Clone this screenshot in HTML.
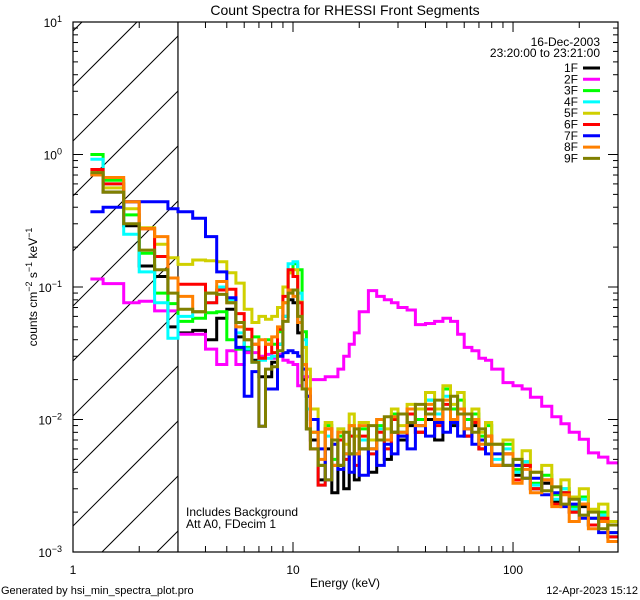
<!DOCTYPE html>
<html><head><meta charset="utf-8"><style>
html,body{margin:0;padding:0;background:#fff;width:640px;height:600px;overflow:hidden;}
svg{display:block;font-family:"Liberation Sans",sans-serif;}
</style></head><body>
<svg id="chart" width="640" height="600" viewBox="0 0 640 600" xmlns="http://www.w3.org/2000/svg">
<defs><clipPath id="plotclip"><rect x="73" y="22" width="545" height="530"/></clipPath></defs>
<rect x="0" y="0" width="640" height="600" fill="#fff"/>
<text x="345" y="15" font-size="14" text-anchor="middle">Count Spectra for RHESSI Front Segments</text>
<g id="hatch"></g>
<g id="series" clip-path="url(#plotclip)"></g>
<g id="axes"></g>
<text x="345" y="587" font-size="12" text-anchor="middle">Energy (keV)</text>
<text transform="translate(37,287) rotate(-90)" font-size="12" text-anchor="middle">counts cm<tspan dy="-5" font-size="9">−2</tspan><tspan dy="5"> s</tspan><tspan dy="-5" font-size="9">−1</tspan><tspan dy="5"> keV</tspan><tspan dy="-5" font-size="9">−1</tspan></text>
<text x="186" y="516" font-size="12">Includes Background</text>
<text x="186" y="528" font-size="12">Att A0, FDecim 1</text>
<text x="1" y="594" font-size="11">Generated by hsi_min_spectra_plot.pro</text>
<text x="638" y="594" font-size="11" text-anchor="end">12-Apr-2023 15:12</text>
<text x="600" y="46" font-size="12" text-anchor="end">16-Dec-2003</text>
<text x="600" y="57" font-size="12" text-anchor="end">23:20:00 to 23:21:00</text>
<g id="legend"></g>
</svg>
<script>
const edges = [1.2,1.37,1.7,2.0,2.35,2.7,3.0,3.5,4.0,4.5,5.0,5.5,6.0,6.5,7.0,7.5,8.0,8.5,9.0,9.5,10,10.5,11,11.5,12,13,14,15,16,17,18,19,20,22,24,26,28,30,33,36,40,44,48,52,56,60,65,70,75,80,90,100,110,120,135,150,165,180,200,220,245,270,300];
const seriesNames = ["1F","2F","3F","4F","5F","6F","7F","8F","9F"];
const seriesColors = ["#000000","#ff00ff","#00ff00","#00ffff","#d0d000","#ff0000","#0000ff","#ff8000","#808000"];
const s1F = [0.70,0.52,0.29,0.144,0.12,0.050,0.045,0.047,0.040,0.058,0.068,0.042,0.033,0.028,0.021,0.021,0.027,0.037,0.060,0.080,0.076,0.045,0.020,0.0085,
 .007,.0035,.006,.0028,.0045,.003,.0055,.0035,.006,.004,.007,.005,.008,.007,.009,.008,.010,.007,.012,.009,.011,.0075,.009,.006,.0065,.0045,.0055,.0038,.0045,.003,.0033,.0024,.0028,.002,.0022,.0016,.0018,.0013];
const s2F = [0.115,0.106,0.076,0.078,0.066,0.066,0.044,0.044,0.034,0.026,0.033,0.026,0.032,0.032,0.030,0.031,0.029,0.031,0.028,0.027,0.026,0.018,0.021,0.021,
 .020,.020,.021,.021,.024,.030,.037,.045,.065,.094,.085,.080,.076,.070,.067,.052,.053,.055,.058,.055,.044,.035,.033,.029,.028,.024,.019,.018,.017,.0147,.0126,.0105,.0093,.0080,.0071,.0056,.0052,.0047];
const s3F = [1.0,0.64,0.35,0.18,0.09,0.075,0.055,0.058,0.064,0.065,0.040,0.034,0.035,0.042,0.029,0.040,0.037,0.046,0.076,0.128,0.15,0.135,0.046,0.015,
 .008,.0045,.009,.005,.0075,.0055,.009,.0055,.0085,.006,.009,.007,.011,.008,.012,.010,.014,.011,.017,.012,.014,.010,.011,.0075,.009,.0055,.0065,.0042,.0048,.0033,.0038,.0027,.003,.0022,.0026,.0018,.002,.0014];
const s4F = [0.92,0.6,0.25,0.13,0.076,0.041,0.06,0.065,0.076,0.10,0.08,0.045,0.034,0.027,0.028,0.029,0.030,0.037,0.06,0.15,0.155,0.09,0.04,0.012,
 .010,.0032,.0075,.0045,.0085,.005,.0075,.0055,.007,.0055,.0085,.006,.0105,.0075,.011,.009,.014,.011,.015,.010,.012,.0085,.0095,.007,.0075,.005,.006,.004,.0048,.0032,.0035,.0025,.003,.0021,.0025,.0016,.0019,.0013];
const s5F = [0.73,0.56,0.39,0.28,0.21,0.166,0.148,0.16,0.158,0.155,0.128,0.107,0.068,0.054,0.060,0.057,0.060,0.070,0.10,0.128,0.135,0.077,0.035,0.024,
 .012,.008,.0095,.0065,.0085,.0065,.011,.0075,.0095,.007,.010,.0085,.012,.009,.013,.012,.016,.012,.018,.013,.016,.011,.012,.008,.0095,.0065,.007,.005,.0058,.004,.0045,.0031,.0035,.0026,.003,.0021,.0023,.0017];
const s6F = [0.77,0.60,0.44,0.275,0.17,0.117,0.105,0.105,0.076,0.095,0.096,0.063,0.048,0.037,0.029,0.037,0.032,0.048,0.085,0.135,0.12,0.076,0.026,0.015,
 .006,.0032,.0085,.0045,.007,.005,.0075,.0045,.0075,.0055,.008,.006,.010,.0075,.011,.008,.012,.009,.013,.010,.012,.0075,.0095,.006,.0075,.0045,.0055,.0035,.0045,.003,.0035,.0023,.0028,.002,.0023,.0016,.0018,.0013];
const s7F = [0.37,0.40,0.44,0.44,0.44,0.39,0.37,0.33,0.24,0.13,0.083,0.035,0.015,0.023,0.0089,0.017,0.017,0.030,0.032,0.033,0.032,0.030,0.024,0.015,
 .010,.006,.0035,.0065,.0042,.0055,.004,.0055,.0038,.006,.0045,.0065,.0055,.0075,.006,.009,.0075,.0095,.008,.0095,.0075,.0085,.0065,.007,.0055,.0055,.0045,.0045,.0036,.0036,.0027,.0028,.0022,.0023,.0018,.0018,.0014,.0014];
const s8F = [0.70,0.67,0.44,0.275,0.24,0.117,0.085,0.065,0.09,0.11,0.076,0.050,0.040,0.037,0.040,0.037,0.042,0.050,0.076,0.095,0.085,0.054,0.026,0.017,
 .008,.005,.0085,.0045,.008,.0055,.009,.0055,.009,.006,.010,.007,.0105,.008,.012,.009,.013,.010,.014,.010,.012,.0085,.010,.0065,.0075,.0045,.0055,.0033,.0042,.0028,.0035,.0022,.0027,.0017,.0023,.0015,.0017,.0012];
const s9F = [0.73,0.52,0.30,0.19,0.135,0.09,0.068,0.065,0.09,0.088,0.076,0.054,0.040,0.027,0.0089,0.024,0.025,0.033,0.055,0.09,0.095,0.060,0.017,0.0085,
 .006,.0045,.0035,.007,.0045,.008,.0055,.0085,.006,.009,.007,.0105,.008,.011,.0095,.013,.011,.014,.012,.015,.011,.011,.008,.0085,.0065,.0065,.0045,.005,.0036,.004,.0029,.0031,.0023,.0025,.0019,.002,.0015,.0016];
const seriesValues = [s1F,s2F,s3F,s4F,s5F,s6F,s7F,s8F,s9F];
const xTickLabels = ["1","10","100"];
const yTickExps = ["1","0","−1","−2","−3"];

const NS="http://www.w3.org/2000/svg";
const L=73,R=618,T=22,B=552;
const XMIN=1,XMAX=300,YMIN=0.001,YMAX=10;
function xS(e){return L+(Math.log10(e)-Math.log10(XMIN))/(Math.log10(XMAX)-Math.log10(XMIN))*(R-L);}
function yS(v){return B-(Math.log10(v)-Math.log10(YMIN))/(Math.log10(YMAX)-Math.log10(YMIN))*(B-T);}
function mk(tag,attrs,parent){const el=document.createElementNS(NS,tag);for(const k in attrs)el.setAttribute(k,attrs[k]);parent.appendChild(el);return el;}

const hatch=document.getElementById('hatch');
const xh=xS(3);
for(let y0=86-55*3;y0<=B+(xh-L);y0+=55){
  // line: y = y0 - (x - L)
  const xa=Math.max(L, L+y0-B), xb=Math.min(xh, L+y0-T);
  if(xb<=xa)continue;
  const ln=mk('line',{x1:xa,y1:y0-(xa-L),x2:xb,y2:y0-(xb-L),stroke:'#000','stroke-width':1},hatch);
  
  
}
const vline=mk('line',{x1:xh,y1:T,x2:xh,y2:B,stroke:'#000','stroke-width':1.2},hatch);



const sg=document.getElementById('series');
seriesValues.forEach((vals,i)=>{
  let d='M'+xS(edges[0]).toFixed(1)+' '+Math.min(B,yS(vals[0])).toFixed(1);
  for(let j=0;j<vals.length;j++){
    if(j>0)d+=' V'+Math.min(B,yS(vals[j])).toFixed(1);
    d+=' H'+Math.min(R,xS(edges[j+1])).toFixed(1);
  }
  const p=mk('path',{d:d,fill:'none',stroke:seriesColors[i],'stroke-width':3,'stroke-linejoin':'miter'},sg);
  
  
});

const ax=document.getElementById('axes');
const frame=mk('rect',{x:L,y:T,width:R-L,height:B-T,fill:'none',stroke:'#000','stroke-width':1.2},ax);


for(let dec=0;dec<3;dec++){
  for(let m=1;m<10;m++){
    const e=Math.pow(10,dec)*m; if(e>XMAX)break;
    const x=xS(e); const len=m===1?10:6;
    const t1=mk('line',{x1:x,y1:B,x2:x,y2:B-len,stroke:'#000','stroke-width':1},ax);
    
    
    const t2=mk('line',{x1:x,y1:T,x2:x,y2:T+len,stroke:'#000','stroke-width':1},ax);
    
    
  }
}
xTickLabels.forEach((lab,i)=>{
  const t=mk('text',{x:xS(Math.pow(10,i)),y:574,'font-size':12,'text-anchor':'middle'},ax);
  t.textContent=lab;
  
  
});
for(let dec=-3;dec<1;dec++){
  for(let m=1;m<10;m++){
    const v=Math.pow(10,dec)*m; const y=yS(v); const len=m===1?10:5;
    const t1=mk('line',{x1:L,y1:y,x2:L+len,y2:y,stroke:'#000','stroke-width':1},ax);
    
    
    const t2=mk('line',{x1:R,y1:y,x2:R-len,y2:y,stroke:'#000','stroke-width':1},ax);
    
    
  }
}
yTickExps.forEach((ex,i)=>{
  const v=Math.pow(10,1-i); const y=yS(v);
  const t=mk('text',{x:62,y:y+5,'font-size':12,'text-anchor':'end'},ax);
  
  
  t.appendChild(document.createTextNode('10'));
  const sup=mk('tspan',{dy:-5,'font-size':9},t); sup.textContent=ex;
});

const lg=document.getElementById('legend');
seriesNames.forEach((n,i)=>{
  const y=68+i*11.3;
  const t=mk('text',{x:578,y:y+4,'font-size':12,'text-anchor':'end'},lg);
  t.textContent=n;
  
  
  const l=mk('line',{x1:583,y1:y,x2:600,y2:y,stroke:seriesColors[i],'stroke-width':3},lg);
  
  
});
</script>
</body></html>
